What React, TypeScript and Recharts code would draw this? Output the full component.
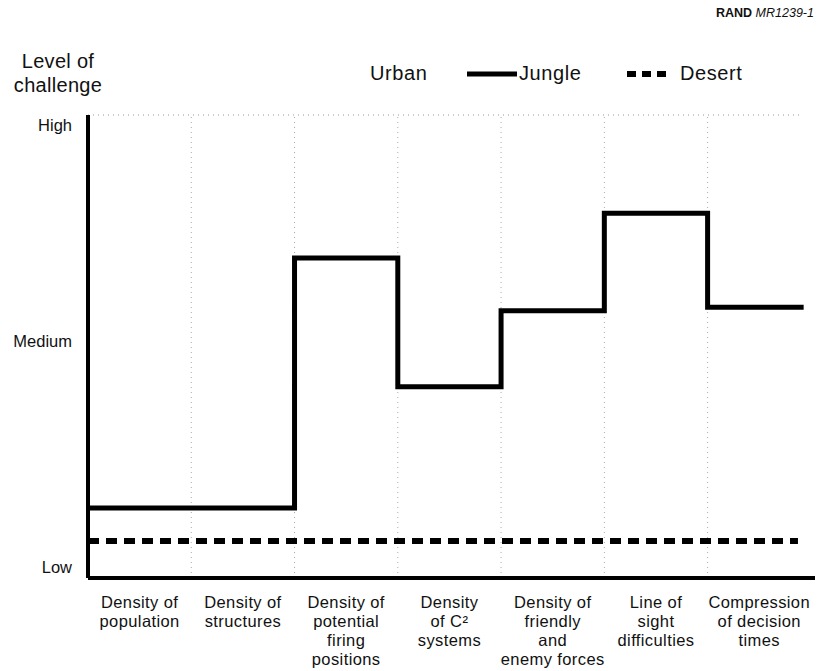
import React from 'react';
import { LineChart, Line, XAxis, YAxis, ReferenceLine, Legend } from 'recharts';

const categories: string[][] = [
  ['Density of', 'population'],
  ['Density of', 'structures'],
  ['Density of', 'potential', 'firing', 'positions'],
  ['Density', 'of C²', 'systems'],
  ['Density of', 'friendly', 'and', 'enemy forces'],
  ['Line of', 'sight', 'difficulties'],
  ['Compression', 'of decision', 'times'],
];

const urban = [100, 100, 100, 100, 100, 100, 100];
const jungle = [15.1, 15.1, 69.1, 41.3, 57.7, 78.8, 58.5];
const desert = [8, 8, 8, 8, 8, 8, 8];
const urbanEnd = 6.9;
const jungleEnd = 6.93;
const desertEnd = 6.875;

const levelTicks = [2.4, 51.2, 97.8];
const levelLabels = ['Low', 'Medium', 'High'];

const FONT = '"Liberation Sans", Arial, Helvetica, sans-serif';

const boundaries = categories.slice(1).map((_, i) => i + 1);
const centers = categories.map((_, i) => i + 0.5);

const toSteps = (vals: number[], end: number) => [
  ...vals.map((v, i) => ({ x: i, y: v })),
  { x: end, y: vals[vals.length - 1] },
];

const urbanData = toSteps(urban, urbanEnd);
const jungleData = toSteps(jungle, jungleEnd);
const desertData = toSteps(desert, desertEnd);

const XTick = (props: any) => {
  const { x, y, payload } = props;
  const idx = centers.indexOf(payload.value);
  const lines = categories[idx] || [];
  return (
    <text x={x} y={y} textAnchor="middle" fontFamily={FONT} fontSize={16.5} letterSpacing={0.4} fill="#111">
      {lines.map((l, i) => (
        <tspan key={i} x={x} y={y + 22 + i * 19}>{l}</tspan>
      ))}
    </text>
  );
};

const YTick = (props: any) => {
  const { y, payload } = props;
  const idx = levelTicks.indexOf(payload.value);
  return (
    <text x={72} y={y} dy={6} textAnchor="end" fontFamily={FONT} fontSize={16.5} fill="#111">
      {levelLabels[idx]}
    </text>
  );
};

const LegendContent = () => (
  <div style={{ position: 'relative', width: 819, height: 100, fontFamily: FONT, fontSize: 20, letterSpacing: 0.6, color: '#111' }}>
    <span style={{ position: 'absolute', left: 370, top: 62 }}>Urban</span>
    <svg style={{ position: 'absolute', left: 465, top: 67 }} width={54} height={14}>
      <line x1={2} y1={7} x2={52} y2={7} stroke="#000" strokeWidth={5} />
    </svg>
    <span style={{ position: 'absolute', left: 519, top: 62 }}>Jungle</span>
    <svg style={{ position: 'absolute', left: 625, top: 67 }} width={44} height={14}>
      <line x1={2} y1={7} x2={42} y2={7} stroke="#000" strokeWidth={6} strokeDasharray="9 6" />
    </svg>
    <span style={{ position: 'absolute', left: 680, top: 62 }}>Desert</span>
  </div>
);

export default function App() {
  return (
    <div style={{ position: 'absolute', left: 0, top: 0, width: 819, height: 671, background: '#fff', overflow: 'hidden' }}>
      <div style={{ position: 'absolute', left: 716, top: 6, fontFamily: FONT, fontSize: 12.5, color: '#111', whiteSpace: 'nowrap' }}>
        <b>RAND</b> <i>MR1239-1</i>
      </div>
      <div style={{ position: 'absolute', left: 0, top: 49, width: 116, textAlign: 'center', fontFamily: FONT, fontSize: 20, lineHeight: '24px', letterSpacing: 0.3, color: '#111' }}>
        Level of<br />challenge
      </div>
      <LineChart width={819} height={671} margin={{ top: 115, right: 4, bottom: 0, left: 0 }}>
        <XAxis
          dataKey="x"
          type="number"
          domain={[0, 7.04]}
          ticks={centers}
          allowDataOverflow
          axisLine={{ stroke: '#000', strokeWidth: 4 }}
          tickLine={false}
          tick={<XTick />}
          height={93}
          interval={0}
        />
        <YAxis
          type="number"
          domain={[0, 100]}
          ticks={levelTicks}
          axisLine={{ stroke: '#000', strokeWidth: 4 }}
          tickLine={false}
          tick={<YTick />}
          width={88}
          interval={0}
        />
        {boundaries.map((b) => (
          <ReferenceLine key={b} x={b} stroke="#aaa" strokeWidth={1} strokeDasharray="1 4" />
        ))}
        <Legend layout="vertical" align="center" verticalAlign="middle" wrapperStyle={{ left: 0, top: 0, width: 819, height: 100 }} content={<LegendContent />} />
        <Line data={urbanData} dataKey="y" name="Urban" type="stepAfter" stroke="#999" strokeWidth={1} strokeDasharray="1 4" dot={false} isAnimationActive={false} />
        <Line data={desertData} dataKey="y" name="Desert" type="stepAfter" stroke="#000" strokeWidth={6} strokeDasharray="11 7" dot={false} isAnimationActive={false} />
        <Line data={jungleData} dataKey="y" name="Jungle" type="stepAfter" stroke="#000" strokeWidth={5} dot={false} isAnimationActive={false} />
      </LineChart>
    </div>
  );
}
